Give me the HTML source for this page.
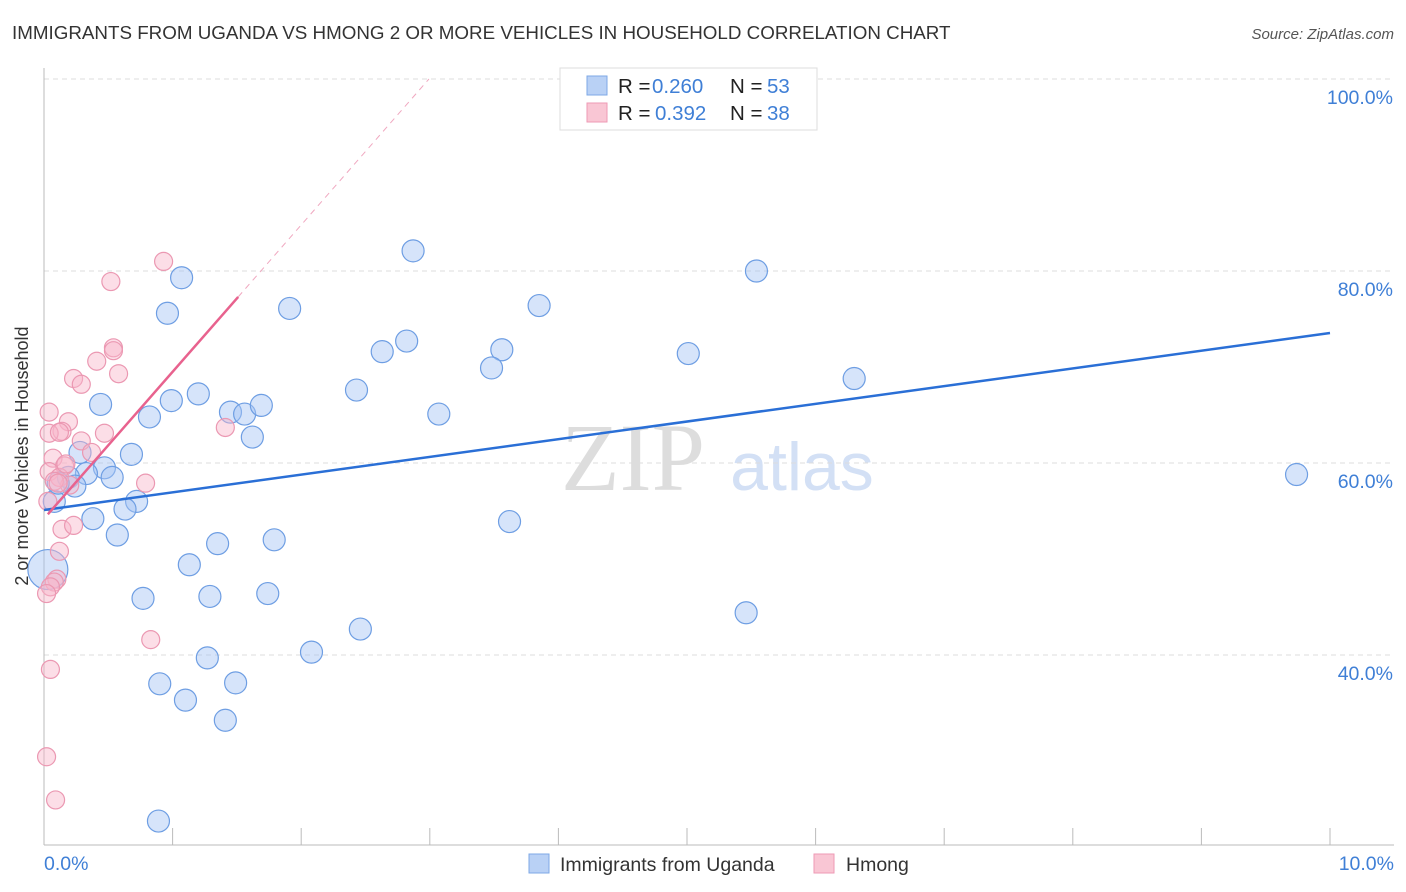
<!DOCTYPE html>
<html><head><meta charset="utf-8"><style>
body{margin:0;background:#fff;font-family:"Liberation Sans",sans-serif}
svg{display:block}
</style></head><body>
<svg id="c" width="1406" height="892" xmlns="http://www.w3.org/2000/svg">
<text x="12" y="39" font-size="18.8" fill="#333">IMMIGRANTS FROM UGANDA VS HMONG 2 OR MORE VEHICLES IN HOUSEHOLD CORRELATION CHART</text>
<text x="1394" y="39" font-size="15" fill="#555" font-style="italic" text-anchor="end">Source: ZipAtlas.com</text>
<text x="633" y="490" font-size="96" fill="#ddd" font-family="Liberation Serif" text-anchor="middle">ZIP</text>
<text x="802" y="490" font-size="68" fill="#d3e0f5" text-anchor="middle">atlas</text>
<g id="grid"></g>
<g id="axes"></g>
<g id="pts"></g>
<g id="lines"></g>
<text x="28" y="456" font-size="18" fill="#333" text-anchor="middle" transform="rotate(-90 28 456)">2 or more Vehicles in Household</text>
<text x="44" y="870" font-size="19.5" fill="#3f7fd6">0.0%</text>
<text x="1394" y="870" font-size="19.5" fill="#3f7fd6" text-anchor="end">10.0%</text>
<g>
<rect x="560" y="68" width="257" height="62" fill="#fff" stroke="#ddd"/>
<rect x="587" y="76" width="20" height="19" fill="#b9d1f5" stroke="#7ea8e6"/>
<rect x="587" y="103" width="20" height="19" fill="#f9c6d4" stroke="#ee9ab5"/>
<text x="618" y="93" font-size="20.5" fill="#222">R = </text><text x="652" y="93" font-size="20.5" fill="#3f7fd6">0.260</text>
<text x="730" y="93" font-size="20.5" fill="#222">N = </text><text x="767" y="93" font-size="20.5" fill="#3f7fd6">53</text>
<text x="618" y="120" font-size="20.5" fill="#222">R = </text><text x="655" y="120" font-size="20.5" fill="#3f7fd6">0.392</text>
<text x="730" y="120" font-size="20.5" fill="#222">N = </text><text x="767" y="120" font-size="20.5" fill="#3f7fd6">38</text>
</g>
<g><rect x="529" y="854" width="20" height="19" fill="#b9d1f5" stroke="#7ea8e6"/><text x="560" y="871" font-size="19.5" fill="#333">Immigrants from Uganda</text></g>
<g><rect x="814" y="854" width="20" height="19" fill="#f9c6d4" stroke="#ee9ab5"/><text x="846" y="871" font-size="19.5" fill="#333">Hmong</text></g>
</svg>
<script>
const blueX=[2.87,5.54,1.07,0.96,1.91,3.85,2.82,2.63,3.56,3.48,5.01,6.30,2.43,0.99,1.20,0.44,1.45,1.56,1.69,3.07,0.82,1.62,0.28,0.68,0.47,0.33,0.19,0.53,0.24,0.08,0.72,0.63,0.38,3.62,0.57,1.79,1.35,1.13,9.74,0.03,0.77,1.29,1.74,5.46,2.46,2.08,1.27,0.90,1.49,1.1,1.41,0.89,0.11];
const blueY=[82.1,80.0,79.3,75.6,76.1,76.4,72.7,71.6,71.8,69.9,71.4,68.8,67.6,66.5,67.2,66.1,65.3,65.1,66.0,65.1,64.8,62.7,61.1,60.9,59.5,58.9,58.5,58.5,57.6,56.0,56.0,55.2,54.2,53.9,52.5,52.0,51.6,49.4,58.8,48.9,45.9,46.1,46.4,44.4,42.7,40.3,39.7,37.0,37.1,35.3,33.2,22.7,57.9];
const pinkX=[0.93,0.52,0.54,0.41,0.54,0.58,0.23,0.29,0.04,0.19,0.14,0.04,0.12,0.47,0.29,0.37,0.07,0.16,0.04,0.12,0.2,0.79,1.41,0.14,0.23,0.12,0.1,0.08,0.05,0.02,0.05,0.83,0.02,0.09,0.03,0.08,0.17,0.11];
const pinkY=[81.0,78.9,72.0,70.6,71.7,69.3,68.8,68.2,65.3,64.3,63.3,63.1,63.2,63.1,62.3,61.1,60.5,59.7,59.1,58.5,57.7,57.9,63.7,53.1,53.5,50.8,47.9,47.6,47.1,46.4,38.5,41.6,29.4,24.9,56.0,58.1,59.9,57.9];
const NS='http://www.w3.org/2000/svg';
const L=44,R=1330,T=79;
const xs=v=>L+v/10*(R-L);
const ys=v=>T+(100-v)*9.6;
function el(t,a,p){const e=document.createElementNS(NS,t);for(const k in a)e.setAttribute(k,a[k]);p.appendChild(e);return e;}
const grid=document.getElementById('grid'),axes=document.getElementById('axes'),pts=document.getElementById('pts'),lines=document.getElementById('lines');
const yTicks=[100,80,60,40];
const yLabels=['100.0%','80.0%','60.0%','40.0%'];
yTicks.forEach((v,i)=>{
 const g=el('line',{x1:L,x2:1394,y1:ys(v),y2:ys(v),stroke:'#ddd','stroke-dasharray':'5,4'},grid);
 
 
 const t=el('text',{x:1393,y:ys(v)+25,'font-size':19.5,fill:'#3f7fd6','text-anchor':'end'},grid);
 t.textContent=yLabels[i];
 
 
});
el('line',{x1:L,x2:L,y1:68,y2:845,stroke:'#bbb'},axes);
el('line',{x1:L,x2:1394,y1:845,y2:845,stroke:'#bbb'},axes);
for(let i=1;i<=10;i++){const tk=el('line',{x1:xs(i),x2:xs(i),y1:828,y2:845,stroke:'#bbb'},axes);
 
 }
blueX.forEach((x,i)=>{const c=el('circle',{cx:xs(x),cy:ys(blueY[i]),r:i==39?20:11,fill:'rgba(164,196,244,0.45)',stroke:'#6e9ee3','stroke-width':1.2},pts);
 
 });
pinkX.forEach((x,i)=>{const c=el('circle',{cx:xs(x),cy:ys(pinkY[i]),r:9,fill:'rgba(248,182,202,0.45)',stroke:'#eb98b2','stroke-width':1.2},pts);
 
 });
const bl=el('line',{x1:xs(0),y1:ys(55.1),x2:xs(10),y2:ys(73.54),stroke:'#2a6fd6','stroke-width':2.5},lines);


const pa=54.2,pb=15.3;
const pl=el('line',{x1:xs(0.03),y1:ys(pa+pb*0.03),x2:xs(1.51),y2:ys(pa+pb*1.51),stroke:'#e8628e','stroke-width':2.5},lines);


const pd=el('line',{x1:xs(1.51),y1:ys(pa+pb*1.51),x2:xs((100-pa)/pb),y2:ys(100),stroke:'#f0a8c0','stroke-width':1,'stroke-dasharray':'6,5'},lines);


</script>
</body></html>
